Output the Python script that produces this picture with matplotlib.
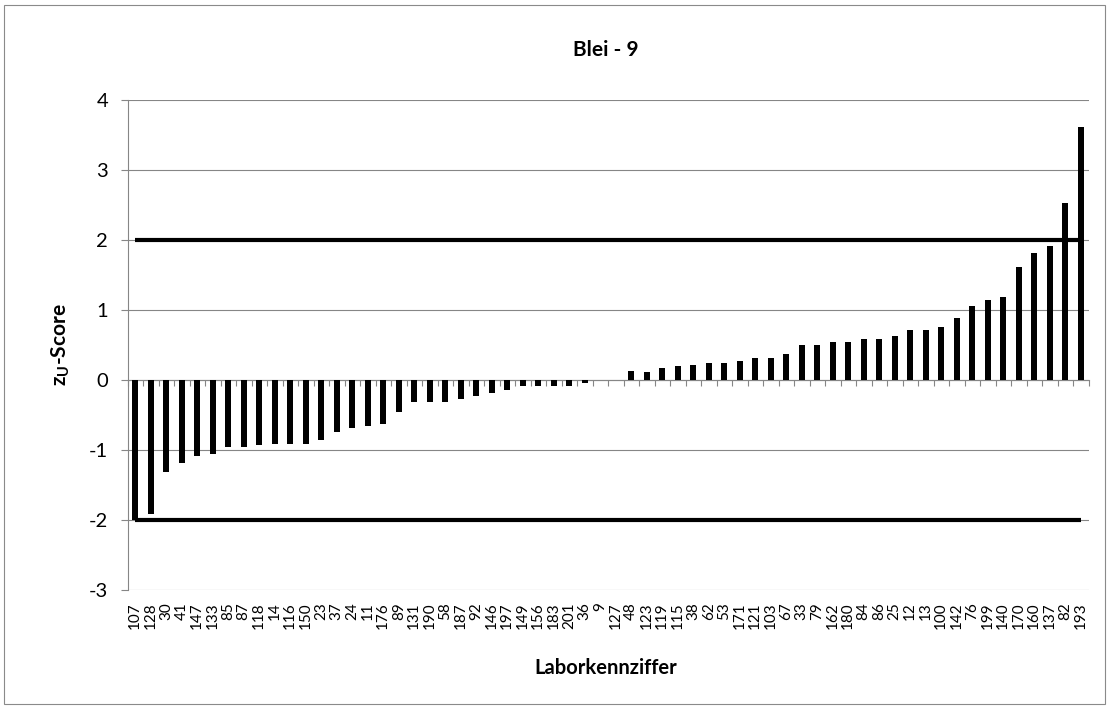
import matplotlib
matplotlib.use("Agg")
import matplotlib.pyplot as plt
import numpy as np
from matplotlib.patches import Rectangle

# Laboratory codes (x categories) and z_U-scores
lab_codes = ["107", "128", "30", "41", "147", "133", "85", "87", "118", "14",
             "116", "150", "23", "37", "24", "11", "176", "89", "131", "190",
             "58", "187", "92", "146", "197", "149", "156", "183", "201", "36",
             "9", "127", "48", "123", "119", "115", "38", "62", "53", "171",
             "121", "103", "67", "33", "79", "162", "180", "84", "86", "25",
             "12", "13", "100", "142", "76", "199", "140", "170", "160", "137",
             "82", "193"]
z_scores = [-2.00, -1.91, -1.31, -1.18, -1.09, -1.05, -0.955, -0.955, -0.935, -0.91,
            -0.91, -0.91, -0.86, -0.74, -0.68, -0.65, -0.63, -0.456, -0.32, -0.32,
            -0.31, -0.27, -0.23, -0.18, -0.14, -0.09, -0.09, -0.09, -0.09, -0.04,
            0.0, 0.0, 0.13, 0.12, 0.17, 0.20, 0.21, 0.245, 0.245, 0.277,
            0.32, 0.32, 0.368, 0.495, 0.495, 0.54, 0.54, 0.583, 0.583, 0.625,
            0.715, 0.715, 0.76, 0.887, 1.06, 1.15, 1.19, 1.62, 1.82, 1.91,
            2.53, 3.61]
upper_limit = 2.0
lower_limit = -2.0
y_ticks = [-3, -2, -1, 0, 1, 2, 3, 4]

title = "Blei - 9"
x_title = "Laborkennziffer"
y_title = r"$\mathbf{z}_{\mathbf{U}}$-Score"

plt.rcParams["font.family"] = ["Lato", "DejaVu Sans"]
plt.rcParams["mathtext.fontset"] = "custom"
plt.rcParams["mathtext.rm"] = "Lato"
plt.rcParams["mathtext.bf"] = "Lato:bold"
plt.rcParams["mathtext.it"] = "Lato:italic"

W, H = 1109, 709
fig = plt.figure(figsize=(W / 100, H / 100), dpi=100)
left_px, right_px, top_px, bottom_px = 127.5, 1088.5, 100, 590
ax = fig.add_axes([left_px / W, 1 - bottom_px / H,
                   (right_px - left_px) / W, (bottom_px - top_px) / H])

n = len(lab_codes)
x = np.arange(n)
ax.bar(x, z_scores, width=0.4, color="black", zorder=3)
ax.plot([x[0], x[-1]], [upper_limit, upper_limit], color="black", lw=3, zorder=4,
        solid_capstyle="butt")
ax.plot([x[0], x[-1]], [lower_limit, lower_limit], color="black", lw=3, zorder=4,
        solid_capstyle="butt")

ymin, ymax = min(y_ticks), max(y_ticks)
ax.set_xlim(-0.5, n - 0.5)
ax.set_ylim(ymin, ymax)
ax.set_yticks(y_ticks)
ax.set_yticklabels([str(t) for t in y_ticks])
ax.yaxis.grid(True, color="#868686", lw=0.8, zorder=0)
ax.set_axisbelow(True)

ax.set_xticks(x)
ax.set_xticklabels(lab_codes, rotation=90, fontsize=11)
ax.tick_params(axis="x", length=0, pad=9)
ax.tick_params(axis="y", length=5, width=0.8, color="#868686", labelsize=14.5, pad=9)

for s in ["top", "right", "bottom"]:
    ax.spines[s].set_visible(False)
ax.spines["left"].set_color("#868686")
ax.spines["left"].set_linewidth(0.8)

# horizontal category axis crossing at zero, with tick marks between categories
zero_pos = (0 - ymin) / (ymax - ymin)
sec = ax.secondary_xaxis(zero_pos)
sec.set_xticks(np.arange(-0.5, n, 1.0))
sec.tick_params(axis="x", length=4, width=0.8, color="#868686", direction="out",
                labelbottom=False, labeltop=False)
sec.spines["bottom"].set_color("#868686")
sec.spines["bottom"].set_linewidth(0.8)

fig.text(606 / W, 1 - 50 / H, title, ha="center", va="center",
         fontsize=15, fontweight="bold")
fig.text(606 / W, 1 - 668 / H, x_title, ha="center", va="center",
         fontsize=14.5, fontweight="bold")
fig.text(61 / W, 1 - 345 / H, y_title, ha="center", va="center",
         fontsize=15, fontweight="bold", rotation=90)

fig.patches.append(Rectangle((4 / W, 5 / H), (W - 8) / W, (H - 10) / H,
                             transform=fig.transFigure, fill=False,
                             ec="#8a8a8a", lw=0.8))

fig.savefig("out.png", dpi=100)
